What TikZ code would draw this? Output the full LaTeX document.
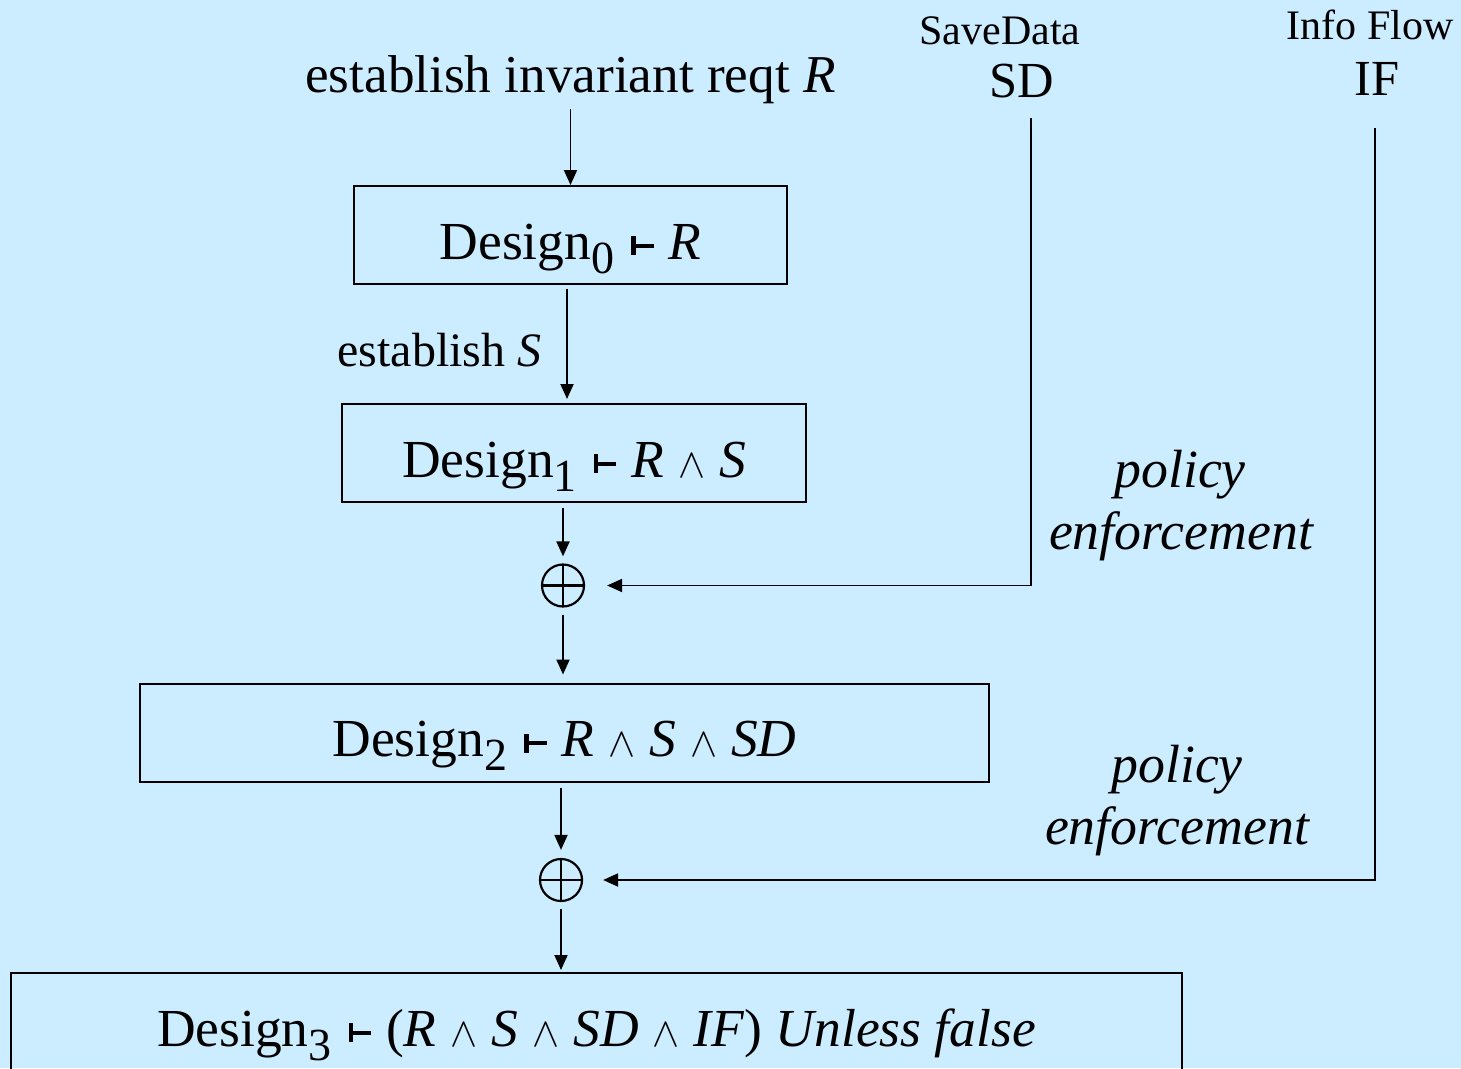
\documentclass[tikz,border=0pt]{standalone}
\usepackage{fontspec}
\setmainfont{Liberation Serif}
\usetikzlibrary{arrows.meta}
\definecolor{bgblue}{RGB}{204,236,255}

% heavy turnstile, lowered index, conjunction sign
\newcommand{\tstile}{\hspace{17pt}\raisebox{4pt}{\rule{4.5pt}{19pt}\rule[7.5pt]{18pt}{4pt}}\hspace{15pt}}
\newcommand{\dsub}[1]{\raisebox{-14pt}{\fontsize{46}{46}\selectfont #1}}
\newcommand{\conj}{\hspace{14pt}\resizebox{27pt}{23pt}{$\wedge$}\hspace{14pt}}

\tikzset{
  dbox/.style={draw, line width=2pt, inner sep=0pt, minimum height=98pt,
    text height=48pt, text depth=0pt, font=\fontsize{53.5}{60}\selectfont},
  oplus/.style={circle, draw, line width=2.2pt, minimum size=42pt, inner sep=0pt,
    path picture={\draw[line width=2.2pt]
      (path picture bounding box.north) -- (path picture bounding box.south)
      (path picture bounding box.west) -- (path picture bounding box.east);}},
  arr/.style={line width=1.9pt, -{Triangle[length=15pt,width=13pt]}},
  lbl/.style={inner sep=0pt, anchor=base},
  pol/.style={lbl, font=\fontsize{53.8}{62}\selectfont\itshape}
}

\begin{document}
\begin{tikzpicture}[x=1pt,y=-1pt]
\clip (0,0) rectangle (1461,1068);
\fill[bgblue] (0,0) rectangle (1461,1068);

% main chain
\node[lbl, font=\fontsize{53.2}{60}\selectfont] (title) at (570.5,92) {establish invariant reqt \textit{R}};
\node[dbox, minimum width=433pt] (d0) at (570.5,235) {Design\dsub{0}\tstile\textit{R}};
\node[lbl, font=\fontsize{48}{56}\selectfont] (estS) at (439.5,366) {establish \textit{S}};
\node[dbox, minimum width=464pt] (d1) at (574,453) {Design\dsub{1}\tstile\textit{R}\conj\textit{S}};
\node[oplus] (op1) at (563,585.5) {};
\node[dbox, minimum width=849pt] (d2) at (564.5,732.5) {Design\dsub{2}\tstile\textit{R}\conj\textit{S}\conj\textit{SD}};
\node[oplus] (op2) at (561,880) {};
\node[dbox, minimum width=1171pt] (d3) at (596.5,1022) {Design\dsub{3}\tstile(\textit{R}\conj\textit{S}\conj\textit{SD}\conj\textit{IF}) \textit{Unless false}};

% policy sources
\node[lbl, font=\fontsize{42}{48}\selectfont] (sdname) at (1000,44) {SaveData};
\node[lbl, font=\fontsize{50.5}{56}\selectfont] (sd) at (1022,97) {SD};
\node[lbl, font=\fontsize{42}{48}\selectfont] (ifname) at (1370,39) {Info Flow};
\node[lbl, font=\fontsize{50.5}{56}\selectfont] (if) at (1377,95) {IF};

\node[pol] (pol1a) at (1180,487) {policy};
\node[pol] (pol1b) at (1181,549) {enforcement};
\node[pol] (pol2a) at (1177,782) {policy};
\node[pol] (pol2b) at (1177,844) {enforcement};

\coordinate (sdtop) at (1031,118);
\coordinate (iftop) at (1375,128);

% connectors
\draw[arr, shorten <=5pt] (title.south) -- (title.south |- d0.north);
\draw[arr, shorten <=4pt, shorten >=4pt] ([xshift=-3.5pt]d0.south) -- ([xshift=-3.5pt]d0.south |- d1.north);
\draw[arr, shorten <=5pt, shorten >=7pt] (d1.south -| op1.north) -- (op1.north);
\draw[arr, shorten <=7pt, shorten >=8pt] (op1.south) -- (op1.south |- d2.north);
\draw[arr, shorten <=5pt, shorten >=8pt] (d2.south -| op2.north) -- (op2.north);
\draw[arr, shorten <=7pt, shorten >=2pt] (op2.south) -- (op2.south |- d3.north);

\draw[arr, shorten >=22pt] (sdtop) |- (op1.east);
\draw[arr, shorten >=20pt] (iftop) |- (op2.east);
\end{tikzpicture}
\end{document}
